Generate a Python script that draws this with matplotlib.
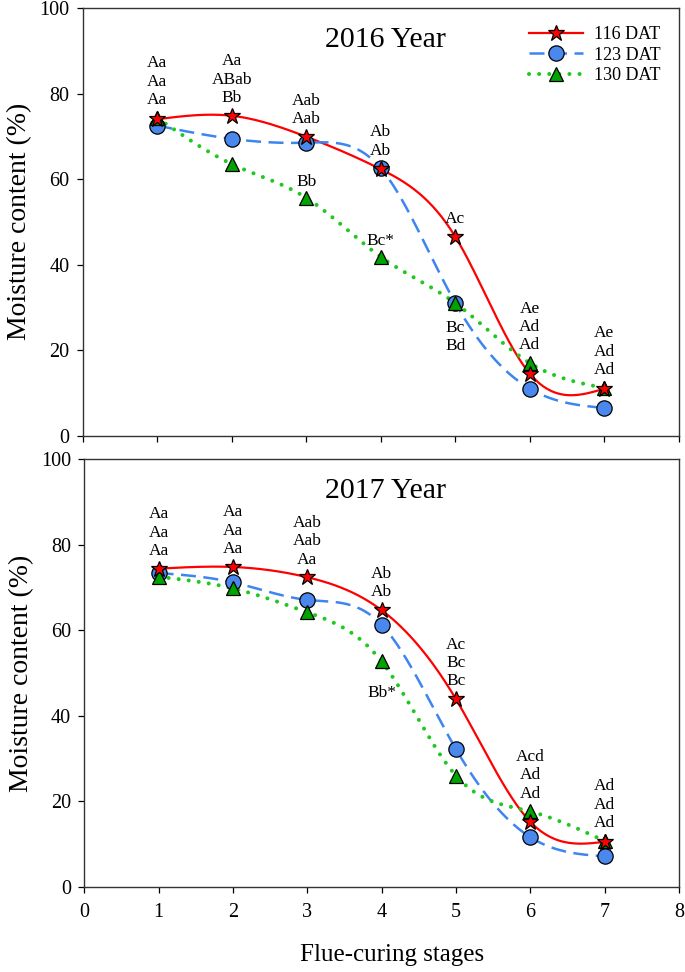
import matplotlib
matplotlib.use("Agg")
import matplotlib.pyplot as plt
import numpy as np

plt.rcParams['font.family'] = ['Liberation Serif', 'DejaVu Serif']

stages = [1, 2, 3, 4, 5, 6, 7]
series_names = ["116 DAT", "123 DAT", "130 DAT"]

# 2016 moisture content (%)
y2016_116 = [74.0, 74.8, 69.9, 62.3, 46.5, 14.5, 11.0]
y2016_123 = [72.5, 69.4, 68.5, 62.5, 31.0, 11.0, 6.5]
y2016_130 = [74.3, 63.5, 55.6, 41.8, 31.0, 17.0, 11.2]

# 2017 moisture content (%)
y2017_116 = [74.4, 74.8, 72.4, 64.7, 43.9, 15.2, 10.5]
y2017_123 = [73.4, 71.2, 67.1, 61.3, 32.2, 11.6, 7.1]
y2017_130 = [72.5, 69.8, 64.2, 52.7, 26.0, 17.6, 10.7]

# letters above each stage
labels2016 = ["Aa\nAa\nAa", "Aa\nABab\nBb", "Aab\nAab", "Ab\nAb", "Ac", "Ae\nAd\nAd", "Ae\nAd\nAd"]
labels2017 = ["Aa\nAa\nAa", "Aa\nAa\nAa", "Aab\nAab\nAa", "Ab\nAb", "Ac\nBc\nBc", "Acd\nAd\nAd", "Ad\nAd\nAd"]
# extra letters: (stage, series index, text, above?)
extra2016 = [(3, 2, "Bb", True), (4, 2, "Bc*", True), (5, 1, "Bc\nBd", False)]
extra2017 = [(4, 2, "Bb*", False)]

colors = ["#ff0000", "#3d85f0", "#1ec81e"]
face = ["#ff0000", "#4a88ee", "#00a400"]
markers = ["*", "o", "^"]
msizes = [12, 11, 10]


def natural_spline(x, y, n=300):
    x = np.asarray(x, float)
    y = np.asarray(y, float)
    k = len(x)
    h = np.diff(x)
    A = np.zeros((k, k))
    b = np.zeros(k)
    A[0, 0] = 1
    A[-1, -1] = 1
    for i in range(1, k - 1):
        A[i, i - 1] = h[i - 1]
        A[i, i] = 2 * (h[i - 1] + h[i])
        A[i, i + 1] = h[i]
        b[i] = 3 * ((y[i + 1] - y[i]) / h[i] - (y[i] - y[i - 1]) / h[i - 1])
    c = np.linalg.solve(A, b)
    xs = np.linspace(x[0], x[-1], n)
    ys = np.empty_like(xs)
    for j, xv in enumerate(xs):
        i = min(np.searchsorted(x, xv, side="right") - 1, k - 2)
        d = xv - x[i]
        bi = (y[i + 1] - y[i]) / h[i] - h[i] * (2 * c[i] + c[i + 1]) / 3
        di = (c[i + 1] - c[i]) / (3 * h[i])
        ys[j] = y[i] + bi * d + c[i] * d ** 2 + di * d ** 3
    return xs, ys


fig = plt.figure(figsize=(6.85, 9.72), dpi=100)
ax1 = fig.add_axes([0.121, 0.5517, 0.870, 0.4401])
ax2 = fig.add_axes([0.123, 0.0878, 0.868, 0.4397])

panels = [
    (ax1, "2016 Year", [y2016_116, y2016_123, y2016_130], labels2016, extra2016),
    (ax2, "2017 Year", [y2017_116, y2017_123, y2017_130], labels2017, extra2017),
]

styles = ["-", (0, (6, 3)), (0, (0.01, 2.5))]
widths = [1.6, 1.8, 2.9]

for ax, title, data, labels, extra in panels:
    handles = []
    for i, ys in enumerate(data):
        xs, ss = natural_spline(stages, ys)
        ax.plot(xs, ss, color=colors[i], linestyle=styles[i], lw=widths[i],
                dash_capstyle="round" if i == 2 else "butt", zorder=2)
    for i in [1, 2, 0]:
        ax.plot(stages, data[i], linestyle="none", marker=markers[i], ms=msizes[i],
                mfc=face[i], mec="black", mew=0.9, zorder=3)
    for i in range(3):
        h, = ax.plot([], [], color=colors[i], linestyle=styles[i], lw=widths[i],
                     dash_capstyle="round" if i == 2 else "butt",
                     marker=markers[i], ms=msizes[i], mfc=face[i], mec="black", mew=0.9)
        handles.append(h)

    tops = np.max(np.array(data), axis=0)
    for s, txt, top in zip(stages, labels, tops):
        ax.annotate(txt, (s, top), xytext=(0, 7), textcoords="offset points",
                    ha="center", va="bottom", fontsize=12.5, linespacing=1.2)
    for s, si, txt, above in extra:
        v = data[si][s - 1]
        if above:
            ax.annotate(txt, (s, v), xytext=(0, 6), textcoords="offset points",
                        ha="center", va="bottom", fontsize=12.5)
        else:
            ax.annotate(txt, (s, v), xytext=(0, -17 if s == 4 else -12),
                        textcoords="offset points",
                        ha="center", va="top", fontsize=12.5, linespacing=1.2)

    ax.text(0.507, 0.925, title, transform=ax.transAxes, ha="center", va="center",
            fontsize=21.5)
    ax.set_xlim(0, 8)
    ax.set_ylim(0, 100)
    ax.set_yticks(range(0, 101, 20))
    ax.set_xticks(range(0, 9))
    ax.tick_params(direction="out", length=4.5, width=0.9, labelsize=14.5)
    ax.tick_params(axis="y", pad=5)
    ax.tick_params(axis="x", pad=7)
    for sp in ax.spines.values():
        sp.set_linewidth(1.0)
        sp.set_color("#333333")
    ax.set_ylabel("Moisture content (%)", fontsize=20, labelpad=5)

ax1.tick_params(axis="x", labelbottom=False)
ax2.set_xlabel("Flue-curing stages", fontsize=18)
ax2.xaxis.set_label_coords(0.517, -0.133)
ax1.legend(handles, series_names, loc="upper right", bbox_to_anchor=(1.0, 1.0),
           frameon=False, fontsize=13, handlelength=3.0, handletextpad=0.6,
           labelspacing=0.2, borderaxespad=0.6)

fig.savefig("out.png", dpi=100)
